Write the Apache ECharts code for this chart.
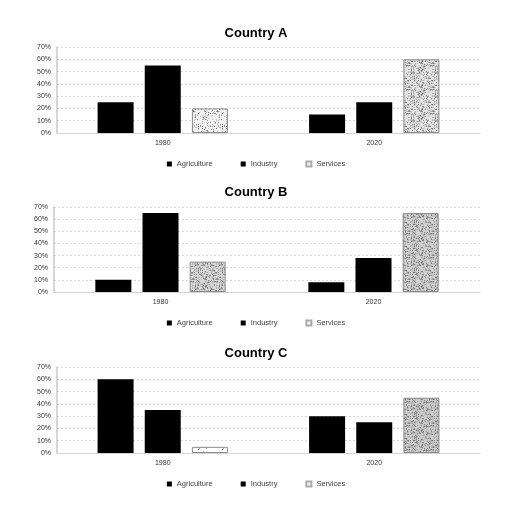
<!DOCTYPE html>
<html><head><meta charset="utf-8">
<script src="https://cdn.jsdelivr.net/npm/echarts@6/dist/echarts.min.js"></script>
<style>html,body{margin:0;padding:0;background:#fff}#c{width:512px;height:505px}</style>
</head><body><div id="c"></div>
<script>
const categories = ['1980', '2020'];
const seriesNames = ['Agriculture', 'Industry', 'Services'];
const countries = ['Country A', 'Country B', 'Country C'];
const countryA_agriculture = [25, 15];
const countryA_industry = [55, 25];
const countryA_services = [20, 60];
const countryB_agriculture = [10, 8];
const countryB_industry = [65, 28];
const countryB_services = [25, 65];
const countryC_agriculture = [60, 30];
const countryC_industry = [35, 25];
const countryC_services = [5, 45];
const yMin = 0, yMax = 70, yStep = 10;

const dataSets = [
  [countryA_agriculture, countryA_industry, countryA_services],
  [countryB_agriculture, countryB_industry, countryB_services],
  [countryC_agriculture, countryC_industry, countryC_services]
];

// deterministic grey speckle texture (style only)
function stipple(density, bg) {
  const N = 24;
  const cv = document.createElement('canvas');
  cv.width = N; cv.height = N;
  const g = cv.getContext('2d');
  g.fillStyle = bg; g.fillRect(0, 0, N, N);
  const greys = ['#bbbbbb', '#a0a0a0', '#c8c8c8', '#8a8a8a', '#b0b0b0', '#d0d0d0', '#707070'];
  for (let y = 0; y < N; y++) for (let x = 0; x < N; x++) {
    let h = (x * 374761393 + y * 668265263) >>> 0;
    h = ((h ^ (h >>> 13)) * 1274126177) >>> 0;
    h = (h ^ (h >>> 16)) >>> 0;
    if (h % 100 < density) {
      g.fillStyle = greys[(h >>> 8) % greys.length];
      g.fillRect(x, y, 1, 1);
    }
  }
  return cv;
}
const textures = [
  [stipple(25, '#f2f2f2'), stipple(45, '#e4e4e4')],
  [stipple(55, '#dadada'), stipple(60, '#d2d2d2')],
  [stipple(6, '#ffffff'), stipple(65, '#cccccc')]
];

const layout = [
  {title: 22, gridTop: 47, gridH: 86, left: 57, legend: 155},
  {title: 181, gridTop: 207, gridH: 85, left: 54, legend: 314},
  {title: 342, gridTop: 367, gridH: 86, left: 57, legend: 475}
];
const font = 'Liberation Sans, Arial, sans-serif';

const option = {
  backgroundColor: '#fff',
  animation: false,
  title: [], grid: [], xAxis: [], yAxis: [], legend: [], series: []
};

layout.forEach((L, i) => {
  option.title.push({text: countries[i], left: 'center', top: L.title,
    textStyle: {fontFamily: font, fontSize: 13, fontWeight: 'bold', color: '#000'}});
  option.grid.push({left: L.left, right: 32, top: L.gridTop, height: L.gridH});
  option.xAxis.push({type: 'category', gridIndex: i, data: categories,
    axisLine: {lineStyle: {color: '#d4d4d4'}}, axisTick: {show: false},
    axisLabel: {fontFamily: font, fontSize: 7, color: '#333', margin: 7}});
  option.yAxis.push({type: 'value', gridIndex: i, min: yMin, max: yMax, interval: yStep,
    axisLine: {show: true, lineStyle: {color: '#c8c8c8', width: 1.5}}, axisTick: {show: false},
    axisLabel: {fontFamily: font, fontSize: 7, color: '#333', margin: 6, formatter: '{value}%'},
    splitLine: {lineStyle: {color: '#d8d8d8', type: [2, 2]}}});
  option.legend.push({top: L.legend, left: 'center', itemWidth: 5, itemHeight: 5, itemGap: 28,
    data: seriesNames.map(n => ({name: n, icon: 'rect'})),
    textStyle: {fontFamily: font, fontSize: 7.5, color: '#444'}});
  seriesNames.forEach((n, s) => {
    const isServ = s === 2;
    option.series.push({
      type: 'bar', name: n, xAxisIndex: i, yAxisIndex: i,
      barWidth: 36, barGap: '31%',
      data: dataSets[i][s].map((v, k) => isServ ? {
        value: v,
        itemStyle: {color: {image: textures[i][k], repeat: 'repeat'}, borderColor: '#8c8c8c', borderWidth: 1}
      } : v),
      itemStyle: isServ ? {color: '#f4f4f4', borderColor: '#aaa', borderWidth: 1} : {color: '#000'}
    });
  });
});

const chart = echarts.init(document.getElementById('c'));
chart.setOption(option);
</script></body></html>
